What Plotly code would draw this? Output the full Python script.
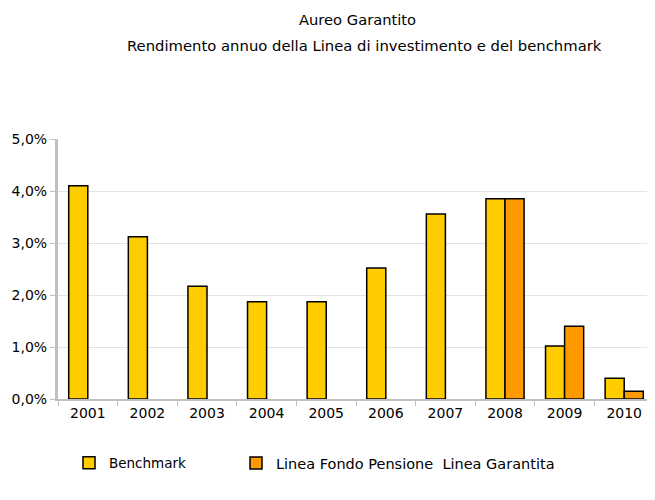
import plotly.graph_objects as go

years = ["2001", "2002", "2003", "2004", "2005", "2006", "2007", "2008", "2009", "2010"]
benchmark = [4.10, 3.12, 2.17, 1.87, 1.87, 2.52, 3.56, 3.85, 1.02, 0.40]
linea = [None, None, None, None, None, None, None, 3.85, 1.40, 0.15]
yticks = [0, 1, 2, 3, 4, 5]
ytick_labels = ["0,0%", "1,0%", "2,0%", "3,0%", "4,0%", "5,0%"]

font = "DejaVu Sans"

# the page body adds an 8px margin, so the figure is 8px smaller
W, H = 647, 492
ML, MR, MT, MB = 50, 1, 131, 101

# page-pixel to paper helpers (plot area spans x 58..654, y 139..399 on the page)
def px(x):
    return (x - 58) / (654 - 58)


def py(y):
    return (399 - y) / (399 - 139)


fig = go.Figure()
fig.add_trace(go.Bar(x=years, y=benchmark, name="Benchmark", legend="legend",
                     marker=dict(color="#FFCC00", line=dict(color="black", width=1.5))))
fig.add_trace(go.Bar(x=years, y=linea, name="Linea Fondo Pensione &nbsp;Linea Garantita",
                     legend="legend2",
                     marker=dict(color="#FF9900", line=dict(color="black", width=1.5))))

fig.update_layout(
    width=W, height=H,
    margin=dict(l=ML, r=MR, t=MT, b=MB, autoexpand=False),
    paper_bgcolor="white", plot_bgcolor="white",
    barmode="group", bargap=0.36, bargroupgap=0,
    font=dict(family=font, size=14, color="black"),
    showlegend=True,
    legend=dict(x=px(69), y=py(463), xanchor="left", yanchor="middle",
                font=dict(size=13.5), itemclick=False, bgcolor="rgba(0,0,0,0)"),
    legend2=dict(x=px(236), y=py(463), xanchor="left", yanchor="middle",
                 font=dict(size=14.5), itemclick=False, bgcolor="rgba(0,0,0,0)"),
    annotations=[
        dict(text="Aureo Garantito", x=px(357), y=py(19), xref="paper", yref="paper",
             xanchor="center", yanchor="middle", showarrow=False, font=dict(size=14.7)),
        dict(text="Rendimento annuo della Linea di investimento e del benchmark",
             x=px(364), y=py(46), xref="paper", yref="paper",
             xanchor="center", yanchor="middle", showarrow=False, font=dict(size=14.8)),
    ],
)

fig.update_xaxes(type="category", showline=True, linecolor="#BFBFBF", linewidth=2,
                 ticks="outside", tickson="boundaries", ticklen=5, tickcolor="#BFBFBF",
                 showgrid=False, tickfont=dict(size=14), tickangle=0)
fig.update_yaxes(range=[0, 5], tickvals=yticks, ticktext=ytick_labels,
                 showline=True, linecolor="#BFBFBF", linewidth=3,
                 ticks="outside", ticklen=5, tickcolor="#BFBFBF",
                 showgrid=True, gridcolor="#E3E3E3", gridwidth=1,
                 zeroline=False, tickfont=dict(size=14))

fig.write_html("out.html")
